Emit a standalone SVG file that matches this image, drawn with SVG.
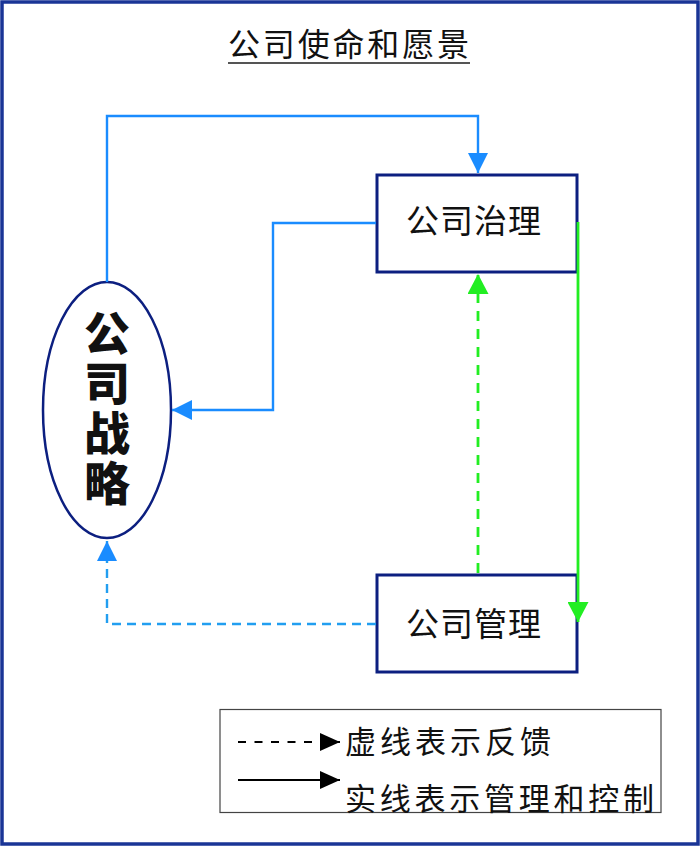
<svg xmlns="http://www.w3.org/2000/svg" width="700" height="846" viewBox="0 0 700 846">
<style>
.t{font-family:"Noto Sans CJK SC","Noto Sans",sans-serif;fill:#111}
.box{fill:#fff;stroke:#0c1f80;stroke-width:3}
.blue{fill:none;stroke:#1a8cff;stroke-width:2.4}
.bluedash{fill:none;stroke:#229ef0;stroke-width:2.4;stroke-dasharray:9 6}
.green{fill:none;stroke:#22ee22;stroke-width:2.8}
.greendash{fill:none;stroke:#22ee22;stroke-width:2.8;stroke-dasharray:10 8}
</style>
<defs>
<marker id="ab" markerUnits="userSpaceOnUse" markerWidth="20" markerHeight="20" viewBox="0 0 20 20" refX="20" refY="10" orient="auto"><path d="M0,0 L20,10 L0,20 Z" fill="#1a8cff"/></marker>
<marker id="ag" markerUnits="userSpaceOnUse" markerWidth="20" markerHeight="21" viewBox="0 0 20 21" refX="20" refY="10.5" orient="auto"><path d="M0,0 L20,10.5 L0,21 Z" fill="#22ee22"/></marker>
<marker id="ak" markerUnits="userSpaceOnUse" markerWidth="20" markerHeight="18" viewBox="0 0 20 18" refX="20" refY="9" orient="auto"><path d="M0,0 L20,9 L0,18 Z" fill="#000"/></marker>
</defs>
<rect x="2" y="2" width="696" height="842" fill="#fff" stroke="#1a3596" stroke-width="3.5"/>
<g id="title">
<text class="t" x="228" y="56" font-size="32" textLength="241" lengthAdjust="spacing">公司使命和愿景</text>
<line x1="228" y1="63" x2="470" y2="63" stroke="#555" stroke-width="2"/>
</g>
<g id="strategy">
<ellipse cx="107" cy="410" rx="64" ry="128" fill="#fff" stroke="#0c1f80" stroke-width="2.5"/>
<text class="t" font-size="46" font-weight="900" writing-mode="vertical-rl" text-anchor="middle" x="107" y="410" letter-spacing="4">公司战略</text>
</g>
<g id="governance">
<rect class="box" x="377" y="175" width="200" height="97"/>
<text class="t" x="406" y="233" font-size="33" textLength="135" lengthAdjust="spacing">公司治理</text>
</g>
<g id="management">
<rect class="box" x="377" y="575" width="200" height="97"/>
<text class="t" x="406" y="636" font-size="33" textLength="135" lengthAdjust="spacing">公司管理</text>
</g>
<g id="connectors">
<path class="blue" d="M107,282 V116 H478 V173" marker-end="url(#ab)"/>
<path class="blue" d="M376,223 H273 V410 H172" marker-end="url(#ab)"/>
<path class="bluedash" d="M376,624 H107 V541" marker-end="url(#ab)"/>
<path class="greendash" d="M478,573 V274" marker-end="url(#ag)"/>
<path class="green" d="M578,222 V622" marker-end="url(#ag)"/>
</g>
<g id="legend">
<rect x="220" y="709.5" width="441" height="103" fill="#fff" stroke="#444" stroke-width="1.2"/>
<line x1="238" y1="742" x2="340" y2="742" stroke="#000" stroke-width="2" stroke-dasharray="8 8.5" marker-end="url(#ak)"/>
<line x1="238" y1="780" x2="340" y2="780" stroke="#000" stroke-width="2" marker-end="url(#ak)"/>
<text class="t" x="345" y="753" font-size="31" textLength="206" lengthAdjust="spacing">虚线表示反馈</text>
<text class="t" x="345" y="810" font-size="31" textLength="309" lengthAdjust="spacing">实线表示管理和控制</text>
</g>
</svg>
